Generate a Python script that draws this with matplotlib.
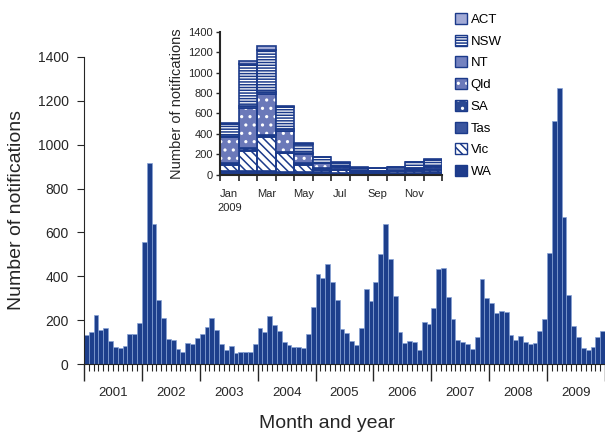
import matplotlib
matplotlib.use("Agg")
import matplotlib.pyplot as plt
from matplotlib.patches import Patch
from matplotlib.transforms import blended_transform_factory
import numpy as np

plt.rcParams['font.family'] = ['Liberation Sans', 'DejaVu Sans']
plt.rcParams['hatch.linewidth'] = 1.1

# monthly notifications, Jan 2001 - Dec 2009
years = ['2001', '2002', '2003', '2004', '2005', '2006', '2007', '2008', '2009']
monthly = [
    132, 147, 222, 155, 163, 106, 76, 73, 81, 137, 137, 185,
    558, 918, 637, 290, 211, 114, 109, 67, 55, 94, 90, 117,
    135, 170, 208, 154, 91, 64, 84, 49, 56, 53, 56, 90,
    163, 146, 219, 179, 150, 100, 85, 78, 78, 74, 135, 258,
    410, 394, 456, 375, 292, 160, 143, 105, 85, 163, 340, 287,
    375, 503, 638, 479, 312, 144, 97, 106, 100, 64, 193, 181,
    254, 432, 438, 304, 204, 109, 99, 91, 70, 125, 388, 301,
    280, 234, 242, 237, 132, 109, 126, 99, 91, 96, 149, 205,
    505, 1110, 1257, 669, 313, 173, 122, 73, 64, 76, 125, 150,
]

# 2009 by state (stacked bottom to top: WA, Vic, Tas, SA, Qld, NT, NSW, ACT)
months_2009 = ['Jan\n2009', '', 'Mar', '', 'May', '', 'Jul', '', 'Sep', '', 'Nov', '']
wa  = [33, 33, 35, 26, 26, 22, 20, 15, 15, 20, 20, 25]
vic = [65, 202, 331, 183, 69, 24, 25, 15, 10, 12, 20, 25]
tas = [5, 8, 8, 5, 8, 4, 3, 2, 2, 2, 3, 4]
sa  = [7, 15, 15, 11, 15, 14, 7, 3, 3, 4, 5, 6]
qld = [262, 392, 401, 206, 81, 47, 25, 10, 8, 10, 12, 20]
nt  = [8, 22, 23, 16, 16, 6, 5, 3, 2, 2, 3, 5]
nsw = [115, 410, 408, 215, 90, 52, 33, 22, 22, 23, 57, 60]
act = [10, 28, 36, 7, 8, 4, 4, 3, 2, 3, 5, 5]

navy = '#1b3a8a'
txt = '#262626'

fig = plt.figure(figsize=(6.05, 4.32), dpi=100)

# ---- main chart ----
ax = fig.add_axes([84 / 605, 1 - 364 / 432, 521 / 605, 307 / 432])
x = np.arange(len(monthly))
ax.bar(x + 0.5, monthly, width=1.0, color='#1d3f8c', edgecolor='#86a2d4', linewidth=0.5)
ax.set_xlim(0, len(monthly))
ax.set_ylim(0, 1400)
ax.set_yticks(range(0, 1401, 200))
ax.set_xticks(np.arange(0, len(monthly) + 1, 12))
ax.set_xticklabels([])
ax.set_xticks(np.arange(0, len(monthly) + 1), minor=True)
ax.tick_params(axis='x', which='major', length=12, width=1.0, direction='out', color=txt)
ax.tick_params(axis='x', which='minor', length=5, width=0.8, direction='out', color=txt)
ax.tick_params(axis='y', length=5, width=0.8, labelsize=10, colors=txt, pad=6)
for s in ['top', 'right']:
    ax.spines[s].set_visible(False)
ax.spines['left'].set_color(txt)
ax.spines['bottom'].set_color(txt)
ax.set_ylabel('Number of notifications', fontsize=14, color=txt, labelpad=9)

trans = blended_transform_factory(ax.transData, ax.transAxes)
for i, yr in enumerate(years):
    ax.text(12 * i + 6, -0.095, yr, transform=trans, ha='center', va='center',
            fontsize=9.5, color=txt)
fig.text(327 / 605, 1 - 415 / 432, 'Month and year', ha='center', va='top',
         fontsize=14, color=txt)

# ---- inset: 2009 by state ----
ins = fig.add_axes([220 / 605, 1 - 174.7 / 432, 222 / 605, 143 / 432])
xi = np.arange(12) + 0.5


def stacked(h, bottom, face, hatch=None, hatch_col=None):
    if hatch is not None:
        ins.bar(xi, h, 1.0, bottom, color=face, edgecolor=hatch_col, hatch=hatch, linewidth=0)
        ins.bar(xi, h, 1.0, bottom, fill=False, edgecolor=navy, linewidth=1.2)
        return (Patch(facecolor=face, edgecolor=hatch_col, hatch=hatch, linewidth=0),
                Patch(fill=False, edgecolor=navy, linewidth=1.0))
    ins.bar(xi, h, 1.0, bottom, color=face, edgecolor=navy, linewidth=1.2)
    return Patch(facecolor=face, edgecolor=navy, linewidth=1.0)


series = [
    ('WA', wa, '#1f3c8c', None, None),
    ('Vic', vic, 'white', '\\\\\\\\', navy),
    ('Tas', tas, '#3a559f', None, None),
    ('SA', sa, '#2a4892', '..', 'white'),
    ('Qld', qld, '#6b79b9', '..', 'white'),
    ('NT', nt, '#7482c0', None, None),
    ('NSW', nsw, 'white', '------', navy),
    ('ACT', act, '#a2aad6', None, None),
]
handles = {}
base = np.zeros(12)
for name, vals, face, hatch, hcol in series:
    handles[name] = stacked(vals, base.copy(), face, hatch, hcol)
    base += np.array(vals)

ins.set_xlim(0, 12)
ins.set_ylim(0, 1400)
ins.set_yticks(range(0, 1401, 200))
ins.set_xticks(np.arange(0, 13))
ins.set_xticklabels([])
ins.set_xticks(xi, months_2009, minor=True)
ins.tick_params(axis='x', which='major', length=4, width=1.2, color=txt)
ins.tick_params(axis='x', which='minor', length=0, labelsize=8, colors=txt, pad=10)
ins.tick_params(axis='y', length=3, width=1.0, labelsize=8, colors=txt, pad=2)
for lab in ins.get_xticklabels(minor=True):
    lab.set_linespacing(1.5)
for s in ['top', 'right']:
    ins.spines[s].set_visible(False)
ins.spines['left'].set_linewidth(1.5)
ins.spines['bottom'].set_linewidth(1.5)
ins.spines['left'].set_color(txt)
ins.spines['bottom'].set_color(txt)
ins.set_ylabel('Number of notifications', fontsize=10.5, color=txt, labelpad=3)

order = ['ACT', 'NSW', 'NT', 'Qld', 'SA', 'Tas', 'Vic', 'WA']
fig.legend([handles[n] for n in order], order, loc='upper left',
           bbox_to_anchor=(455 / 605, 1 - 13 / 432), frameon=False, fontsize=9.5,
           handlelength=0.9, handleheight=0.9, handletextpad=0.3, labelspacing=0.66,
           borderaxespad=0, borderpad=0)

fig.savefig('out.png', dpi=100)
